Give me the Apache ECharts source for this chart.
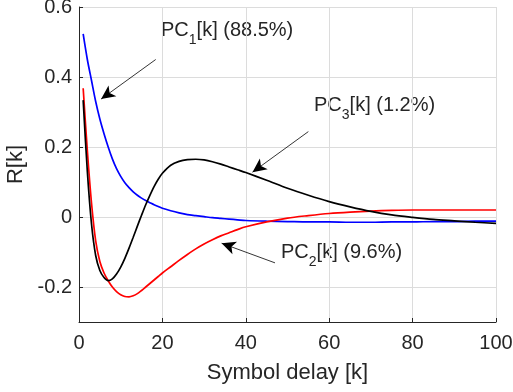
<!DOCTYPE html>
<html>
<head>
<meta charset="utf-8">
<script src="https://cdn.jsdelivr.net/npm/echarts@6/dist/echarts.min.js"></script>
<style>
  html, body { margin: 0; padding: 0; background: #fff; }
  #chart { width: 513px; height: 392px; }
</style>
</head>
<body>
<div id="chart"></div>
<script>
// symbol delay k (sampled) and the three principal components
const delays = [1, 2, 3, 4, 5, 6, 7, 8, 9, 10, 11, 12, 13, 14, 15, 16, 17, 18, 19, 20, 22, 24, 26, 28, 30, 32, 34, 36, 38, 40, 45, 50, 55, 60, 65, 70, 75, 80, 85, 90, 95, 100];
const pc1 = [0.523, 0.45, 0.39, 0.33, 0.28, 0.238, 0.2, 0.166, 0.138, 0.116, 0.098, 0.084, 0.072, 0.062, 0.054, 0.047, 0.041, 0.035, 0.03, 0.025, 0.018, 0.012, 0.007, 0.004, 0.001, -0.002, -0.004, -0.006, -0.008, -0.010, -0.012, -0.013, -0.014, -0.014, -0.015, -0.015, -0.014, -0.014, -0.013, -0.013, -0.012, -0.012];
const pc2 = [0.368, 0.19, 0.04, -0.068, -0.127, -0.16, -0.182, -0.2, -0.213, -0.222, -0.227, -0.228, -0.225, -0.219, -0.21, -0.2, -0.19, -0.18, -0.17, -0.16, -0.142, -0.124, -0.107, -0.091, -0.077, -0.065, -0.054, -0.045, -0.036, -0.028, -0.014, -0.003, 0.004, 0.01, 0.014, 0.017, 0.019, 0.02, 0.02, 0.02, 0.02, 0.02];
const pc3 = [0.334, 0.13, -0.02, -0.11, -0.153, -0.173, -0.182, -0.177, -0.163, -0.143, -0.118, -0.089, -0.058, -0.026, 0.005, 0.035, 0.062, 0.087, 0.108, 0.125, 0.148, 0.159, 0.164, 0.165, 0.163, 0.158, 0.151, 0.143, 0.135, 0.127, 0.105, 0.082, 0.062, 0.044, 0.029, 0.016, 0.006, -0.001, -0.007, -0.011, -0.015, -0.018];

const xTicks = [0, 20, 40, 60, 80, 100];
const yTicks = [-0.2, 0, 0.2, 0.4, 0.6];

// annotation arrows: [tail, head] in data units
const arrows = [
  [[18.4, 0.45], [5.3, 0.337]],
  [[55.0, 0.244], [41.6, 0.128]],
  [[47.0, -0.131], [34.2, -0.075]]
];

const textColor = '#262626';
const font = 'Liberation Sans';

const chart = echarts.init(document.getElementById('chart'));

const toPairs = vals => delays.map((k, i) => [k, vals[i]]);

const lineSeries = (name, vals, color) => ({
  name: name,
  type: 'line',
  data: toPairs(vals),
  smooth: 0.3,
  showSymbol: false,
  lineStyle: { color: color, width: 1.7 },
  z: 3
});

const label = (x, y, main, sub, rest) => ({
  type: 'text',
  left: x,
  top: y,
  style: {
    text: '{a|' + main + '}{s|' + sub + '}{a|' + rest + '}',
    rich: {
      a: { fontFamily: font, fontSize: 20, fill: textColor, lineHeight: 34, verticalAlign: 'middle' },
      s: { fontFamily: font, fontSize: 14, fill: textColor, lineHeight: 34, verticalAlign: 'bottom' }
    }
  }
});

const option = {
  animation: false,
  grid: { left: 79, right: 17, top: 7, bottom: 70, outerBoundsMode: 'none' },
  xAxis: {
    type: 'value',
    min: 0,
    max: 100,
    interval: 20,
    name: 'Symbol delay [k]',
    nameLocation: 'middle',
    nameGap: 40,
    nameTextStyle: { color: textColor, fontFamily: font, fontSize: 22 },
    axisLine: { onZero: false, lineStyle: { color: textColor, width: 1 } },
    axisTick: { inside: true, length: 4, lineStyle: { color: textColor } },
    axisLabel: {
      color: textColor, fontFamily: font, fontSize: 20, margin: 11,
      customValues: xTicks
    },
    splitLine: { show: true, lineStyle: { color: '#dcdcdc', width: 1 } }
  },
  yAxis: {
    type: 'value',
    min: -0.3,
    max: 0.6,
    name: 'R[k]',
    nameLocation: 'middle',
    nameGap: 48,
    nameTextStyle: { color: textColor, fontFamily: font, fontSize: 22 },
    axisLine: { show: true, onZero: false, lineStyle: { color: textColor, width: 1 } },
    axisTick: { show: true, inside: true, length: 4, lineStyle: { color: textColor }, customValues: yTicks },
    axisLabel: {
      color: textColor, fontFamily: font, fontSize: 20, margin: 7,
      padding: [4, 0, 0, 0],
      customValues: yTicks,
      formatter: v => (Math.abs(v) < 1e-9 ? '0' : String(+v.toFixed(1)))
    },
    splitLine: { show: true, lineStyle: { color: '#dcdcdc', width: 1 } }
  },
  series: [
    lineSeries('PC1', pc1, '#0000ff'),
    lineSeries('PC2', pc2, '#ff0000'),
    Object.assign(lineSeries('PC3', pc3, '#000000'), {
      markLine: {
        silent: true,
        symbol: ['none', 'arrow'],
        symbolSize: [10, 14],
        label: { show: false },
        lineStyle: { color: '#000', width: 0.8, type: 'solid' },
        data: arrows.map(a => [{ coord: a[0] }, { coord: a[1] }])
      }
    })
  ],
  graphic: [
    label(161, 20, 'PC', '1', '[k] (88.5%)'),
    label(314, 95, 'PC', '3', '[k] (1.2%)'),
    label(281, 242, 'PC', '2', '[k] (9.6%)')
  ]
};

chart.setOption(option);
</script>
</body>
</html>
